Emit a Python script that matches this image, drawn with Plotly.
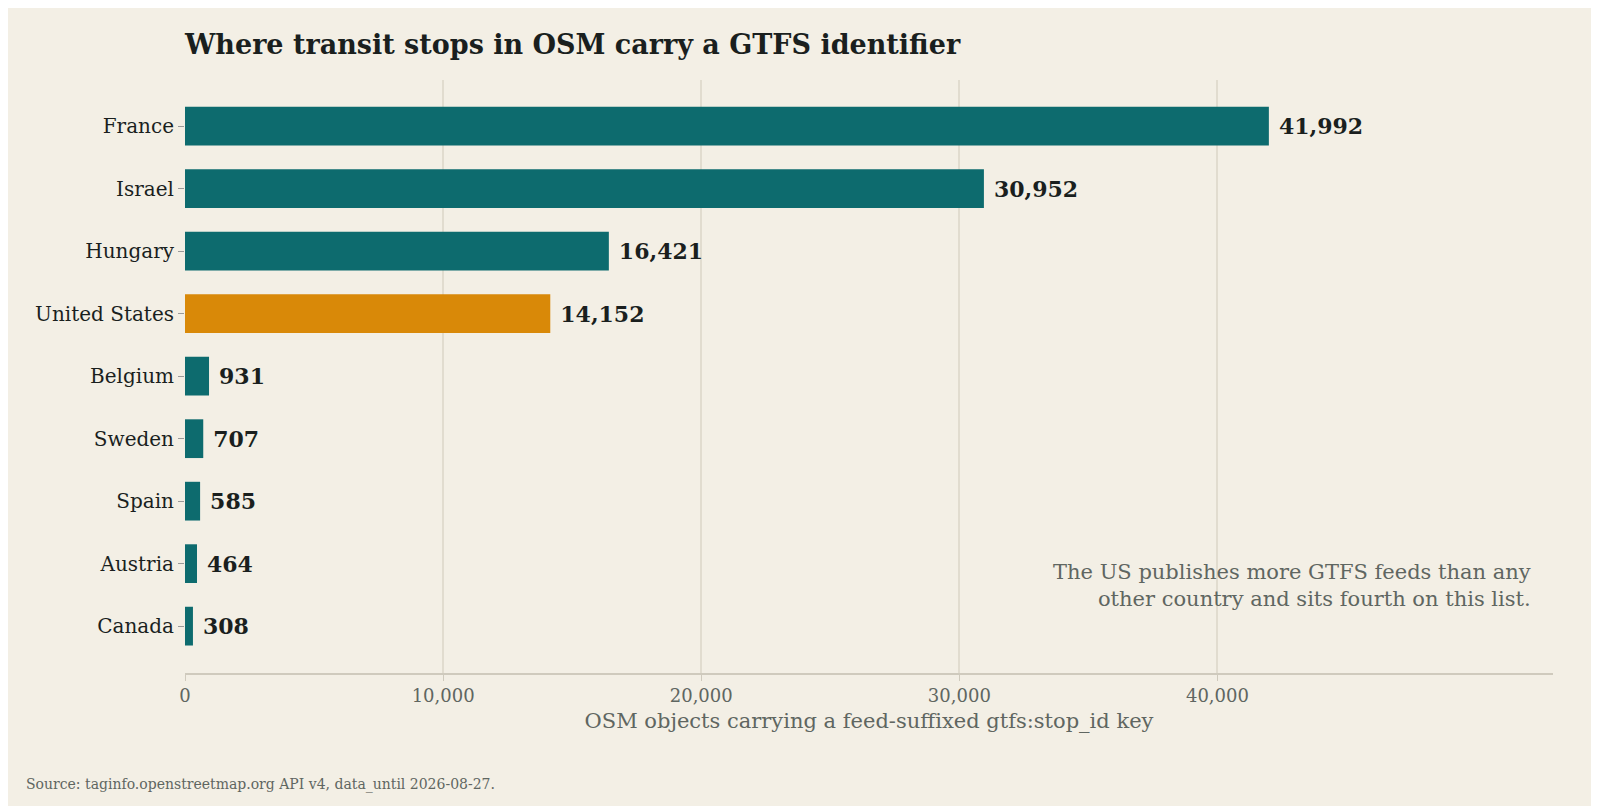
import plotly.graph_objects as go

countries = ["France", "Israel", "Hungary", "United States", "Belgium", "Sweden", "Spain", "Austria", "Canada"]
values = [41992, 30952, 16421, 14152, 931, 707, 585, 464, 308]
highlight = "United States"

colors = ["#d98908" if c == highlight else "#0d6b6e" for c in countries]
labels = [f"{v:,}" for v in values]
FONT = "DejaVu Serif, Liberation Serif, serif"

fig = go.Figure(go.Bar(
    x=values, y=countries, orientation="h", width=0.62,
    marker=dict(color=colors, line=dict(width=0)),
    text=labels, textposition="outside", cliponaxis=False,
    textfont=dict(family=FONT, size=22, color="#1a1f1e"),
    texttemplate=" <b>%{text}</b>", hoverinfo="skip",
))
fig.update_layout(
    width=1599, height=806,
    paper_bgcolor="#f3efe5", plot_bgcolor="#f3efe5",
    margin=dict(l=177, r=54, t=72, b=141),
    font=dict(family=FONT, color="#1a1f1e"),
    title=dict(text="<b>Where transit stops in OSM carry a GTFS identifier</b>",
               x=177/1599, xanchor="left", y=1-37/806, yanchor="middle",
               font=dict(size=27, color="#1a1f1e")),
    showlegend=False,
    xaxis=dict(range=[0, 53000], tickvals=[0, 10000, 20000, 30000, 40000],
               ticktext=["0", "10,000", "20,000", "30,000", "40,000"],
               tickfont=dict(size=18, color="#5f6661"),
               showgrid=True, gridcolor="#e1dccf", gridwidth=1.5,
               zeroline=False, showline=True, linecolor="#cfcabd", linewidth=1.5,
               ticks="outside", tickcolor="#cfcabd", ticklen=6,
               title=dict(text="OSM objects carrying a feed-suffixed gtfs:stop_id key",
                          font=dict(size=21, color="#5f6661"), standoff=8)),
    yaxis=dict(categoryorder="array", categoryarray=countries[::-1],
               range=[-0.75, 8.74], tickfont=dict(size=20, color="#1a1f1e"),
               ticks="outside", tickcolor="#999", ticklen=6, showgrid=False),
    annotations=[
        dict(text="The US publishes more GTFS feeds than any<br>other country and sits fourth on this list.",
             xref="paper", yref="paper", x=(1525-177)/1368, y=(665-577)/593,
             xanchor="right", yanchor="middle", align="right", showarrow=False,
             font=dict(size=21, color="#5f6661")),
        dict(text="Source: taginfo.openstreetmap.org API v4, data_until 2026-08-27.",
             xref="paper", yref="paper", x=-161/1368, y=-(776-665)/593,
             xanchor="left", yanchor="middle", showarrow=False,
             font=dict(size=14, color="#5f6661")),
    ],
)
fig.write_html("out.html")
